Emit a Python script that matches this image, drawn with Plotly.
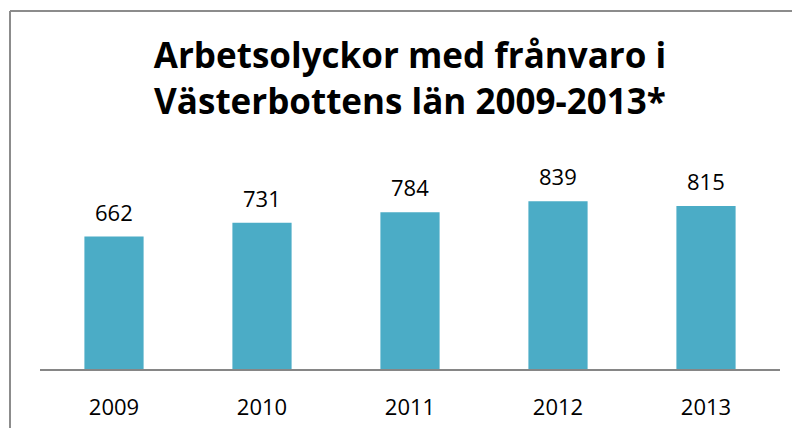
import plotly.graph_objects as go

years = ["2009", "2010", "2011", "2012", "2013"]
accidents = [662, 731, 784, 839, 815]
title_text = "Arbetsolyckor med frånvaro i<br>Västerbottens län 2009-2013*"

FONT = "Open Sans, Liberation Sans, sans-serif"

fig = go.Figure()
fig.add_trace(go.Bar(
    x=years, y=accidents,
    marker=dict(color="#4BACC6", line=dict(width=0)),
))

# category axis: annotation x given as category index
for i, v in enumerate(accidents):
    fig.add_annotation(x=i, y=v, xref="x", yref="y", text=str(v), showarrow=False,
                       yanchor="middle", yshift=25,
                       font=dict(family=FONT, size=22, color="#000000"))

# page body has an 8px margin, so figure coordinates = screen - 8
L, R, T, B = 32, 28, 161, 67
W, H = 800, 428
pw, ph = W - L - R, H - T - B

def px_x(x):
    return (x - L) / pw

def px_y(y):
    return (H - B - y) / ph

fig.update_layout(
    width=W, height=H,
    margin=dict(l=L, r=R, t=T, b=B),
    paper_bgcolor="white", plot_bgcolor="white",
    bargap=0.6,
    showlegend=False,
    title=dict(text=title_text, x=0.5, xanchor="center", xref="paper",
               y=1 - 60 / H, yanchor="middle", yref="container",
               font=dict(family=FONT, size=35, color="#000000", weight="bold")),
    xaxis=dict(type="category", categoryarray=years, range=[-0.5, len(years) - 0.5],
               showline=True, linecolor="#868686", linewidth=2,
               ticks="outside", ticklen=18, tickcolor="rgba(0,0,0,0)",
               tickfont=dict(family=FONT, size=22, color="#000000")),
    yaxis=dict(range=[0, 1000], visible=False, showgrid=False),
    shapes=[
        dict(type="line", xref="paper", yref="paper", x0=px_x(2), x1=px_x(2), y0=px_y(3), y1=px_y(440),
             line=dict(color="#8C8C8C", width=2)),
        dict(type="line", xref="paper", yref="paper", x0=px_x(2), x1=px_x(810), y0=px_y(3), y1=px_y(3),
             line=dict(color="#8C8C8C", width=2)),
    ],
)

fig.write_html("out.html")
